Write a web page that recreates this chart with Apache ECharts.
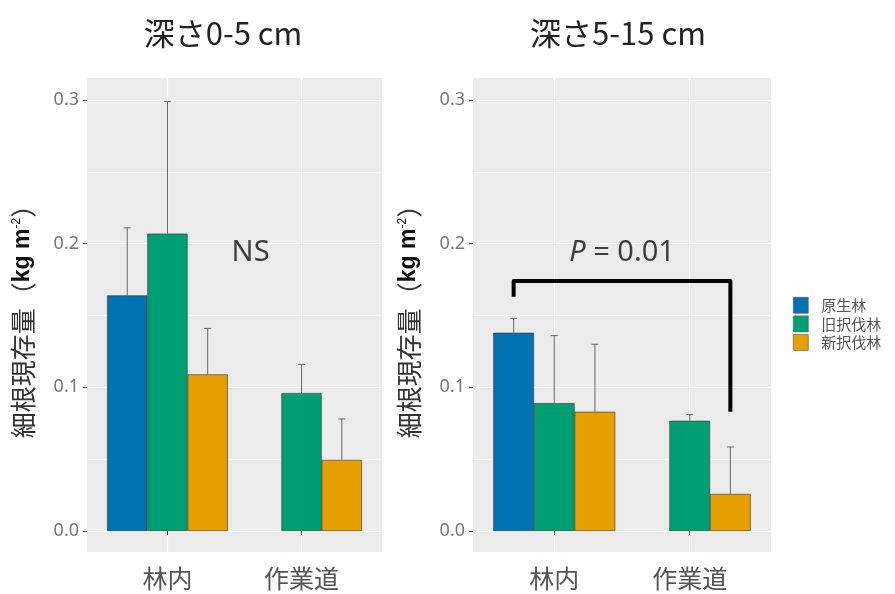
<!DOCTYPE html>
<html lang="ja">
<head>
<meta charset="UTF-8">
<title>細根現存量</title>
<script src="https://cdn.jsdelivr.net/npm/echarts@6/dist/echarts.min.js"></script>
<style>
html, body { margin: 0; padding: 0; background: #fff; }
#chart { width: 895px; height: 594px; }
</style>
</head>
<body>
<div id="chart"></div>
<script>
// ---- data ----
var sites = ['林内', '作業道'];
var stands = ['原生林', '旧択伐林', '新択伐林'];
var depthTitles = ['深さ0-5 cm', '深さ5-15 cm'];
var yTicks = [0, 0.1, 0.2, 0.3];
var yMinorTicks = [0.05, 0.15, 0.25];

// mean[stand][site], null = no data
var mean0_5 = [[0.164, null], [0.207, 0.096], [0.109, 0.0495]];
var upper0_5 = [[0.211, null], [0.299, 0.116], [0.141, 0.078]];
var mean5_15 = [[0.138, null], [0.089, 0.0767], [0.083, 0.0258]];
var upper5_15 = [[0.148, null], [0.136, 0.081], [0.130, 0.0585]];

var panelMeans = [mean0_5, mean5_15];
var panelUppers = [upper0_5, upper5_15];

// significance annotations
var nsLabel = { panel: 0, x: 1.62, y: 0.194, text: 'NS' };
var pLabel = { panel: 1, x: 1.5, y: 0.194, text: '{i|P} = 0.01' };
// bracket from (site 0, stand 0) to (site 1, stand 2)
var bracket = { panel: 1, from: [0, 0], to: [1, 2], top: 0.174, leftFoot: 0.163, rightFoot: 0.083 };

// ---- styling ----
var colors = ['#0072B2', '#009E73', '#E69F00'];
var CAT_GAP = 0.1;                       // barCategoryGap 10%
var BAR_W = (1 - CAT_GAP) / stands.length;  // bar width in x units
var Y_MIN = -0.0146, Y_MAX = 0.3153;

function barX(site, stand) {
	return site + 1 + (stand - (stands.length - 1) / 2) * BAR_W;
}

var grids = [
	{ left: 87, top: 78, width: 295, height: 474 },
	{ left: 473, top: 78, width: 298, height: 474 }
];

var xAxes = [], yAxes = [], series = [];

grids.forEach(function (g, p) {
	g.show = true;
	g.backgroundColor = '#EBEBEB';
	g.borderWidth = 0;

	xAxes.push({
		type: 'value', gridIndex: p, min: 0.4, max: 2.6,
		axisLine: { show: false },
		axisTick: { show: true, customValues: [1, 2], length: 4, lineStyle: { color: '#444' } },
		axisLabel: {
			customValues: [1, 2], margin: 14, fontSize: 25, color: '#555',
			fontFamily: 'Noto Sans CJK JP',
			formatter: function (v) { return sites[Math.round(v) - 1]; }
		},
		splitLine: { show: true, lineStyle: { color: '#fff', width: 1.2 } }
	});

	yAxes.push({
		type: 'value', gridIndex: p, min: Y_MIN, max: Y_MAX,
		axisLine: { show: false },
		axisTick: { show: true, customValues: yTicks, length: 4, lineStyle: { color: '#444' } },
		axisLabel: {
			customValues: yTicks, fontSize: 18, color: '#777', margin: 8,
			fontFamily: 'Noto Sans',
			formatter: function (v) { return v.toFixed(1); }
		},
		splitLine: { show: true, lineStyle: { color: '#fff', width: 1.2 } },
		name: '細根現存量（{b|kg m}{sup|-2}）',
		nameLocation: 'middle', nameRotate: 90, nameGap: 51,
		nameTextStyle: {
			fontSize: 26, color: '#333', fontFamily: 'Noto Sans CJK JP',
			rich: {
				b: { fontSize: 23, fontWeight: 'bold', color: '#111', fontFamily: 'Liberation Sans' },
				sup: { fontSize: 12, color: '#111', padding: [0, 0, 13, 0], fontFamily: 'Liberation Sans' }
			}
		}
	});
	// minor grid lines
	yAxes.push({
		type: 'value', gridIndex: p, min: Y_MIN, max: Y_MAX,
		axisLine: { show: false },
		axisTick: { show: false, customValues: yMinorTicks },
		axisLabel: { show: false },
		splitLine: { show: true, lineStyle: { color: '#fff', width: 0.6 } }
	});

	var means = panelMeans[p], uppers = panelUppers[p];
	var errData = [];
	stands.forEach(function (name, s) {
		var data = [];
		sites.forEach(function (site, i) {
			if (means[s][i] != null) {
				data.push([i + 1, means[s][i]]);
				errData.push([barX(i, s), means[s][i], uppers[s][i]]);
			}
		});
		series.push({
			name: name, type: 'bar', xAxisIndex: p, yAxisIndex: p * 2,
			barGap: '0%', barCategoryGap: (CAT_GAP * 100) + '%',
			itemStyle: { color: colors[s], borderColor: '#333', borderWidth: 0.6 },
			data: data, z: 3
		});
	});

	series.push({
		type: 'custom', xAxisIndex: p, yAxisIndex: p * 2, z: 4,
		data: errData,
		renderItem: function (params, api) {
			var a = api.coord([api.value(0), api.value(1)]);
			var b = api.coord([api.value(0), api.value(2)]);
			var st = { stroke: '#666', lineWidth: 1 };
			return {
				type: 'group',
				children: [
					{ type: 'line', shape: { x1: a[0], y1: a[1], x2: b[0], y2: b[1] }, style: st },
					{ type: 'line', shape: { x1: b[0] - 3.5, y1: b[1], x2: b[0] + 3.5, y2: b[1] }, style: st }
				]
			};
		}
	});
});

// bracket
var bx0 = barX(bracket.from[0], bracket.from[1]);
var bx1 = barX(bracket.to[0], bracket.to[1]);
series.push({
	type: 'line', xAxisIndex: bracket.panel, yAxisIndex: bracket.panel * 2,
	symbol: 'none', z: 6, silent: true,
	lineStyle: { color: '#000', width: 4, join: 'round' },
	data: [[bx0, bracket.leftFoot], [bx0, bracket.top], [bx1, bracket.top], [bx1, bracket.rightFoot]]
});

// annotation texts
[nsLabel, pLabel].forEach(function (t) {
	series.push({
		type: 'scatter', xAxisIndex: t.panel, yAxisIndex: t.panel * 2,
		symbolSize: 0, z: 6, silent: true,
		label: {
			show: true, position: 'inside', formatter: t.text,
			fontSize: 29, color: '#111', fontFamily: 'Noto Sans',
			rich: { i: { fontSize: 29, fontStyle: 'italic', color: '#111', fontFamily: 'Noto Sans' } }
		},
		data: [[t.x, t.y]]
	});
});

var chart = echarts.init(document.getElementById('chart'));
chart.setOption({
	animation: false,
	backgroundColor: '#fff',
	textStyle: { fontFamily: 'Noto Sans CJK JP' },
	title: [
		{ text: depthTitles[0], left: 218, top: 13, textAlign: 'center',
		  textStyle: { fontSize: 31, fontWeight: 'normal', color: '#222', fontFamily: 'Noto Sans CJK JP' } },
		{ text: depthTitles[1], left: 613, top: 13, textAlign: 'center',
		  textStyle: { fontSize: 31, fontWeight: 'normal', color: '#222', fontFamily: 'Noto Sans CJK JP' } }
	],
	legend: {
		data: stands, orient: 'vertical', left: 788, top: 292,
		icon: 'rect', itemWidth: 15, itemHeight: 16, itemGap: 2,
		itemStyle: { borderWidth: 0.6, borderColor: '#555' },
		textStyle: { fontSize: 15, color: '#555', padding: [0, 0, 0, 8], lineHeight: 16 }
	},
	grid: grids,
	xAxis: xAxes,
	yAxis: yAxes,
	series: series
});
</script>
</body>
</html>
